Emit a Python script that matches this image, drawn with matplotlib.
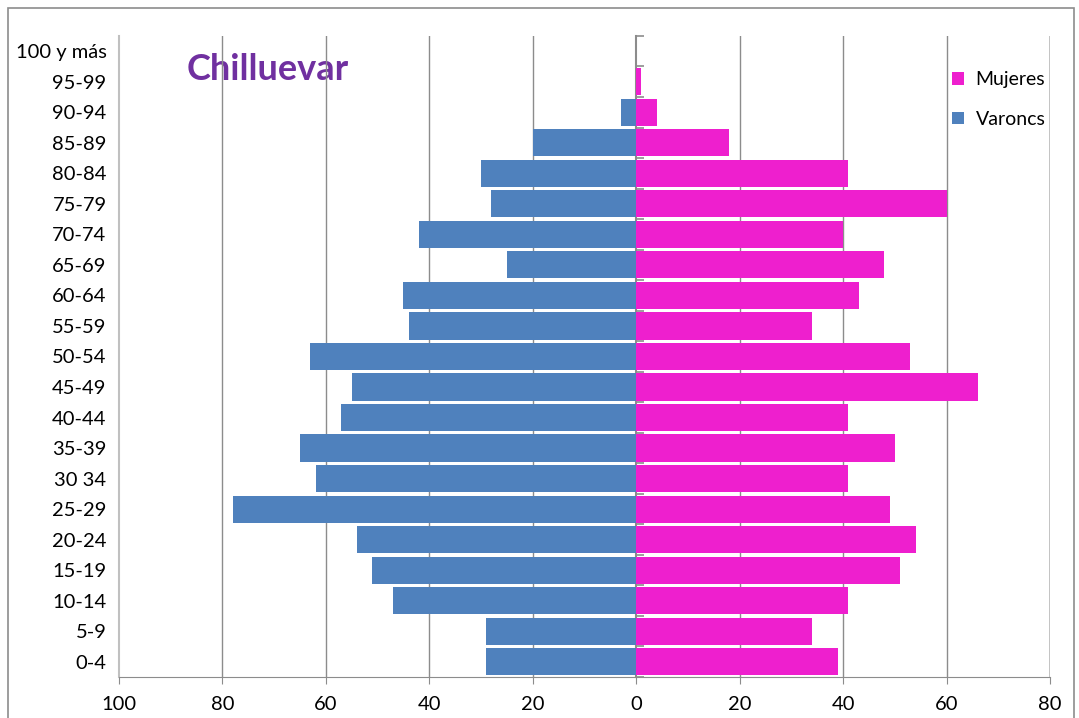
#Population pyramid for Chilluevar, bars for men to the left and women to the right
import matplotlib.pyplot as plt
from matplotlib.patches import Rectangle
import numpy as np

plt.rcParams['font.family'] = ['Lato', 'DejaVu Sans']

# age groups, bottom to top
grupos = ['0-4', '5-9', '10-14', '15-19', '20-24', '25-29', '30 34', '35-39',
          '40-44', '45-49', '50-54', '55-59', '60-64', '65-69', '70-74',
          '75-79', '80-84', '85-89', '90-94', '95-99', '100 y más']
varones = [29, 29, 47, 51, 54, 78, 62, 65, 57, 55, 63, 44, 45, 25, 42,
           28, 30, 20, 3, 0, 0]
mujeres = [39, 34, 41, 51, 54, 49, 41, 50, 41, 66, 53, 34, 43, 48, 40,
           60, 41, 18, 4, 1, 0]
xticks = [-100, -80, -60, -40, -20, 0, 20, 40, 60, 80]

azul = '#4f81bd'
rosa = '#ee1fce'

fig = plt.figure(figsize=(10.79, 7.18), dpi=100)
ax = fig.add_axes([0.1103, 0.0571, 0.8628, 0.8928])

# outer chart border
fig.patches.append(Rectangle((8/1079, -0.1), 1066/1079, 1.1 - 8/718,
                             transform=fig.transFigure, fill=False,
                             edgecolor='#8c8c8c', linewidth=1.2))

y = np.arange(len(grupos))
ax.barh(y, -np.array(varones), height=0.89, color=azul, label='Varoncs', zorder=3)
ax.barh(y, mujeres, height=0.89, color=rosa, label='Mujeres', zorder=3)

ax.set_xlim(-100, 80)
ax.set_ylim(-0.5, len(grupos) - 0.5)

ax.text(0.073, 0.973, 'Chilluevar', transform=ax.transAxes, fontsize=26,
        fontweight='bold', color='#7030a0', va='top', ha='left', zorder=0)

# vertical gridlines
for xv in xticks[1:]:
    if xv != 0:
        ax.axvline(xv, color='#8c8c8c', linewidth=1, zorder=1)
ax.axvline(80, color='#bdbdbd', linewidth=1.2, zorder=1)

for s in ['top', 'right']:
    ax.spines[s].set_visible(False)
ax.spines['left'].set_color('#c0c0c0')
ax.spines['left'].set_linewidth(1.5)
ax.spines['bottom'].set_color('#8c8c8c')

ax.set_xticks(xticks)
ax.set_xticklabels([str(abs(v)) for v in xticks])
ax.tick_params(axis='x', direction='out', length=5, color='#8c8c8c',
               labelsize=14.5, pad=9)
ax.set_yticks(y)
ax.set_yticklabels(grupos)
ax.tick_params(axis='y', length=0, labelsize=14.5, pad=9)

# category axis at zero with tick marks between groups
sec = ax.secondary_yaxis(100 / 180)
sec.set_yticks(np.arange(-0.5, len(grupos)), labels=[])
sec.tick_params(axis='y', direction='out', length=6, color='#8c8c8c', width=1.2)
for sp in sec.spines.values():
    sp.set_color('#8c8c8c')
    sp.set_linewidth(1.5)

h, l = ax.get_legend_handles_labels()
ax.legend(h[::-1], l[::-1], loc='upper right', bbox_to_anchor=(1.014, 0.972),
          frameon=False, fontsize=14, handlelength=0.6, handleheight=0.6,
          labelspacing=1.15, handletextpad=0.6)

fig.savefig('out.png', dpi=100)
